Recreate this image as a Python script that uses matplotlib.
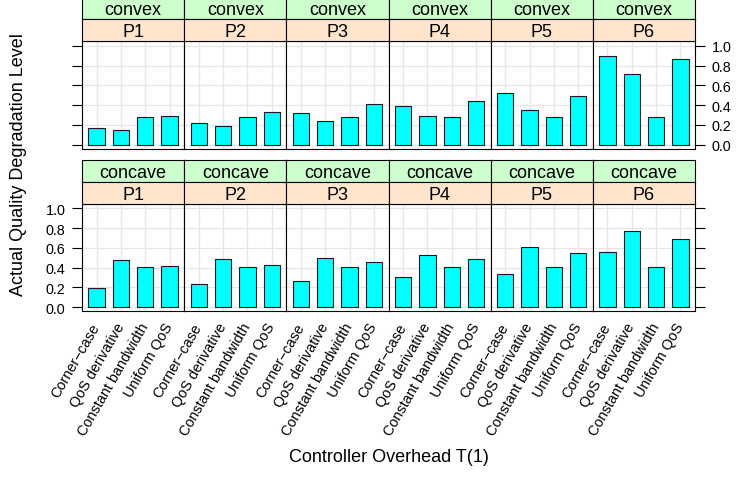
import matplotlib
matplotlib.use("Agg")
import matplotlib.pyplot as plt

plt.rcParams['font.family'] = ['Liberation Sans', 'DejaVu Sans']

W, H, DPI = 749, 481, 100

controllers = ["Corner\u2212case", "QoS derivative", "Constant bandwidth", "Uniform QoS"]
profiles = ["P1", "P2", "P3", "P4", "P5", "P6"]
shapes = ["convex", "concave"]

# degradation level per profile, one list per controller
convex_corner = [0.165, 0.216, 0.319, 0.394, 0.527, 0.897]
convex_qos_deriv = [0.151, 0.185, 0.243, 0.291, 0.356, 0.712]
convex_const_bw = [0.285, 0.285, 0.285, 0.285, 0.285, 0.285]
convex_uniform = [0.288, 0.329, 0.414, 0.445, 0.497, 0.863]

concave_corner = [0.192, 0.229, 0.266, 0.304, 0.331, 0.557]
concave_qos_deriv = [0.481, 0.492, 0.502, 0.527, 0.608, 0.774]
concave_const_bw = [0.404, 0.404, 0.404, 0.404, 0.404, 0.404]
concave_uniform = [0.414, 0.424, 0.461, 0.483, 0.551, 0.693]

series = {
    "convex": [convex_corner, convex_qos_deriv, convex_const_bw, convex_uniform],
    "concave": [concave_corner, concave_qos_deriv, concave_const_bw, concave_uniform],
}

yticks = [0.0, 0.2, 0.4, 0.6, 0.8, 1.0]
ytick_labels = ["0.0", "0.2", "0.4", "0.6", "0.8", "1.0"]

BASE = 13.0
TICK = BASE * 0.8
LW = 0.8

fig = plt.figure(figsize=(W / DPI, H / DPI), dpi=DPI)


def box(x0, y0, x1, y1):
    return [x0 / W, 1 - y1 / H, (x1 - x0) / W, (y1 - y0) / H]


left, right = 82.0, 695.0
pw = (right - left) / 6
strip_h = 22.0
rows = [(42.3, 150.0), (205.0, 312.3)]


def strip(x0, y0, x1, y1, color, text):
    sa = fig.add_axes(box(x0, y0, x1, y1))
    sa.set_facecolor(color)
    sa.set_xticks([])
    sa.set_yticks([])
    for sp in sa.spines.values():
        sp.set_linewidth(LW)
    sa.text(0.5, 0.45, text, ha="center", va="center", fontsize=BASE,
            transform=sa.transAxes)


for r, shape in enumerate(shapes):
    top, bot = rows[r]
    for c, prof in enumerate(profiles):
        x0 = left + c * pw
        x1 = x0 + pw
        ax = fig.add_axes(box(x0, top, x1, bot))
        vals = [s[c] for s in series[shape]]
        ax.set_axisbelow(True)
        ax.grid(True, color="#E6E6E6", lw=0.9)
        ax.bar(range(len(controllers)), vals, width=2 / 3, color="#00FFFF",
               edgecolor="#1a1a1a", linewidth=LW, zorder=3)
        ax.set_xlim(-0.6, len(controllers) - 0.4)
        ax.set_ylim(-0.043, 1.045)
        ax.set_yticks(yticks)
        ax.set_yticklabels(ytick_labels)
        ax.set_xticks(range(len(controllers)))
        for sp in ax.spines.values():
            sp.set_linewidth(LW)
        ax.tick_params(axis="x", length=0, labelbottom=False)
        if r == 1:
            ax.set_xticklabels(controllers, rotation=60, ha="right",
                               va="center", rotation_mode="anchor",
                               fontsize=TICK)
            ax.tick_params(axis="x", labelbottom=True, pad=9)
        ax.tick_params(axis="y", direction="out", length=7, width=LW,
                       labelsize=TICK, pad=5,
                       left=False, right=False, labelleft=False,
                       labelright=False)
        if c == 0:
            ax.tick_params(axis="y", left=True, labelleft=(r == 1))
        if c == len(profiles) - 1:
            ax.tick_params(axis="y", right=True, labelright=(r == 0))
        # strips: outer factor (shape) on top, profile below
        strip(x0, top - 2 * strip_h, x1, top - strip_h, "#CCFFCC", shape)
        strip(x0, top - strip_h, x1, top, "#FFE5CC", prof)

fig.text(19 / W, 1 - 165 / H, "Actual Quality Degradation Level",
         rotation=90, ha="center", va="center", fontsize=BASE)
fig.text(388.5 / W, 1 - 458 / H, "Controller Overhead T(1)",
         ha="center", va="center", fontsize=BASE)

fig.savefig("out.png", dpi=DPI)
